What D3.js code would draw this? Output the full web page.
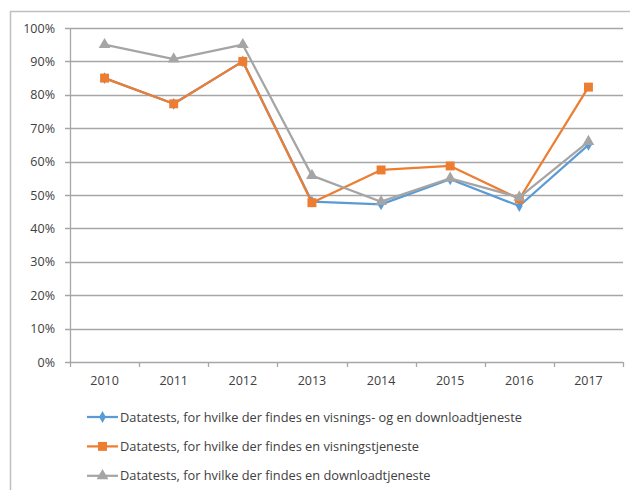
<!DOCTYPE html>
<html>
<head>
<meta charset="utf-8">
<script src="https://cdn.jsdelivr.net/npm/d3@7"></script>
<style>
  body { margin: 0; background: #fff; overflow: hidden; }
  svg { display: block; }
  text { font-family: "Open Sans", "Noto Sans", sans-serif; fill: #404040; }
</style>
</head>
<body>
<script>
// Data
const years = ['2010', '2011', '2012', '2013', '2014', '2015', '2016', '2017'];
const bothValues = [85, 77.3, 90, 48, 47.2, 54.7, 46.7, 65];
const viewValues = [85, 77.3, 90, 47.7, 57.5, 58.7, 48.8, 82.3];
const downloadValues = [95, 90.7, 95, 55.8, 48, 55, 49.3, 66];
const yTicks = [0, 10, 20, 30, 40, 50, 60, 70, 80, 90, 100];
const seriesNames = [
  'Datatests, for hvilke der findes en visnings- og en downloadtjeneste',
  'Datatests, for hvilke der findes en visningstjeneste',
  'Datatests, for hvilke der findes en downloadtjeneste'
];

const width = 630;
const height = 490;
const margin = { top: 28, right: 7, bottom: 128, left: 70 };
const innerWidth = width - margin.left - margin.right;
const innerHeight = height - margin.top - margin.bottom;

const series = [
  { name: seriesNames[0], values: bothValues, color: '#5b9bd5', symbol: d3.symbolDiamond, size: 40 },
  { name: seriesNames[1], values: viewValues, color: '#ed7d31', symbol: d3.symbolSquare, size: 80 },
  { name: seriesNames[2], values: downloadValues, color: '#a5a5a5', symbol: d3.symbolTriangle, size: 60 }
];

const svg = d3.select('body')
  .append('svg')
  .attr('width', width)
  .attr('height', height);

// outer chart frame (only left and top edges fall inside the picture)
svg.append('path')
  .attr('d', `M10.5,${height}V11.5H${width}`)
  .attr('fill', 'none')
  .attr('stroke', '#bfbfbf')
  .attr('stroke-width', 1.5);

const chart = svg.append('g')
  .attr('transform', `translate(${margin.left}, ${margin.top})`);

const xScale = d3.scaleBand()
  .domain(years)
  .range([0, innerWidth])
  .padding(0);

const yScale = d3.scaleLinear()
  .domain([0, 100])
  .range([innerHeight, 0]);

// gridlines
chart.append('g')
  .selectAll('line')
  .data(yTicks)
  .enter()
  .append('line')
  .attr('x1', -5)
  .attr('x2', innerWidth)
  .attr('y1', d => Math.round(yScale(d)) + 0.5)
  .attr('y2', d => Math.round(yScale(d)) + 0.5)
  .attr('stroke', '#a6a6a6')
  .attr('stroke-width', 1.3);

// y axis
const yAxis = chart.append('g')
  .call(d3.axisLeft(yScale).tickValues(yTicks).tickSize(0).tickPadding(15).tickFormat(d => d + '%'));
yAxis.select('.domain')
  .attr('d', `M0.5,0V${innerHeight}`)
  .attr('stroke', '#a6a6a6')
  .attr('stroke-width', 1.3);
yAxis.selectAll('text')
  .style('font-size', '12.5px')
  .attr('fill', '#404040');

// x axis
const xAxis = chart.append('g')
  .attr('transform', `translate(0, ${Math.round(innerHeight) + 0.5})`)
  .call(d3.axisBottom(xScale).tickSize(0).tickPadding(14));
xAxis.select('.domain').remove();
xAxis.selectAll('text')
  .style('font-size', '12.5px')
  .attr('fill', '#404040');

// tick marks on band boundaries
chart.append('g')
  .selectAll('line')
  .data(years.concat(['end']))
  .enter()
  .append('line')
  .attr('x1', (d, i) => Math.round(i * xScale.step()) + 0.5)
  .attr('x2', (d, i) => Math.round(i * xScale.step()) + 0.5)
  .attr('y1', innerHeight)
  .attr('y2', innerHeight + 5)
  .attr('stroke', '#a6a6a6')
  .attr('stroke-width', 1.3);

const line = d3.line()
  .x((d, i) => xScale(years[i]) + xScale.bandwidth() / 2)
  .y(d => yScale(d));

// lines and markers
series.forEach(s => {
  chart.append('path')
    .datum(s.values)
    .attr('d', line)
    .attr('fill', 'none')
    .attr('stroke', s.color)
    .attr('stroke-width', 2.25)
    .attr('stroke-linejoin', 'round');

  chart.selectAll(null)
    .data(s.values)
    .enter()
    .append('path')
    .attr('d', d3.symbol().type(s.symbol).size(s.size))
    .attr('transform', (d, i) => `translate(${xScale(years[i]) + xScale.bandwidth() / 2}, ${yScale(d)})`)
    .attr('fill', s.color);
});

// legend
const legend = svg.append('g')
  .attr('class', 'legend')
  .attr('transform', 'translate(87, 417)');

legend.selectAll('.legend-item')
  .data(series)
  .enter()
  .append('g')
  .attr('class', 'legend-item')
  .attr('transform', (d, i) => `translate(0, ${i * 29.4})`)
  .each(function (d) {
    const g = d3.select(this);
    g.append('line')
      .attr('x1', 0)
      .attr('x2', 31)
      .attr('y1', 0)
      .attr('y2', 0)
      .attr('stroke', d.color)
      .attr('stroke-width', 2.25);
    g.append('path')
      .attr('d', d3.symbol().type(d.symbol).size(d.size))
      .attr('transform', 'translate(15.5, 0)')
      .attr('fill', d.color);
    g.append('text')
      .attr('x', 33)
      .attr('y', 4.5)
      .style('font-size', '12.8px')
      .attr('fill', '#404040')
      .text(d.name);
  });
</script>
</body>
</html>
